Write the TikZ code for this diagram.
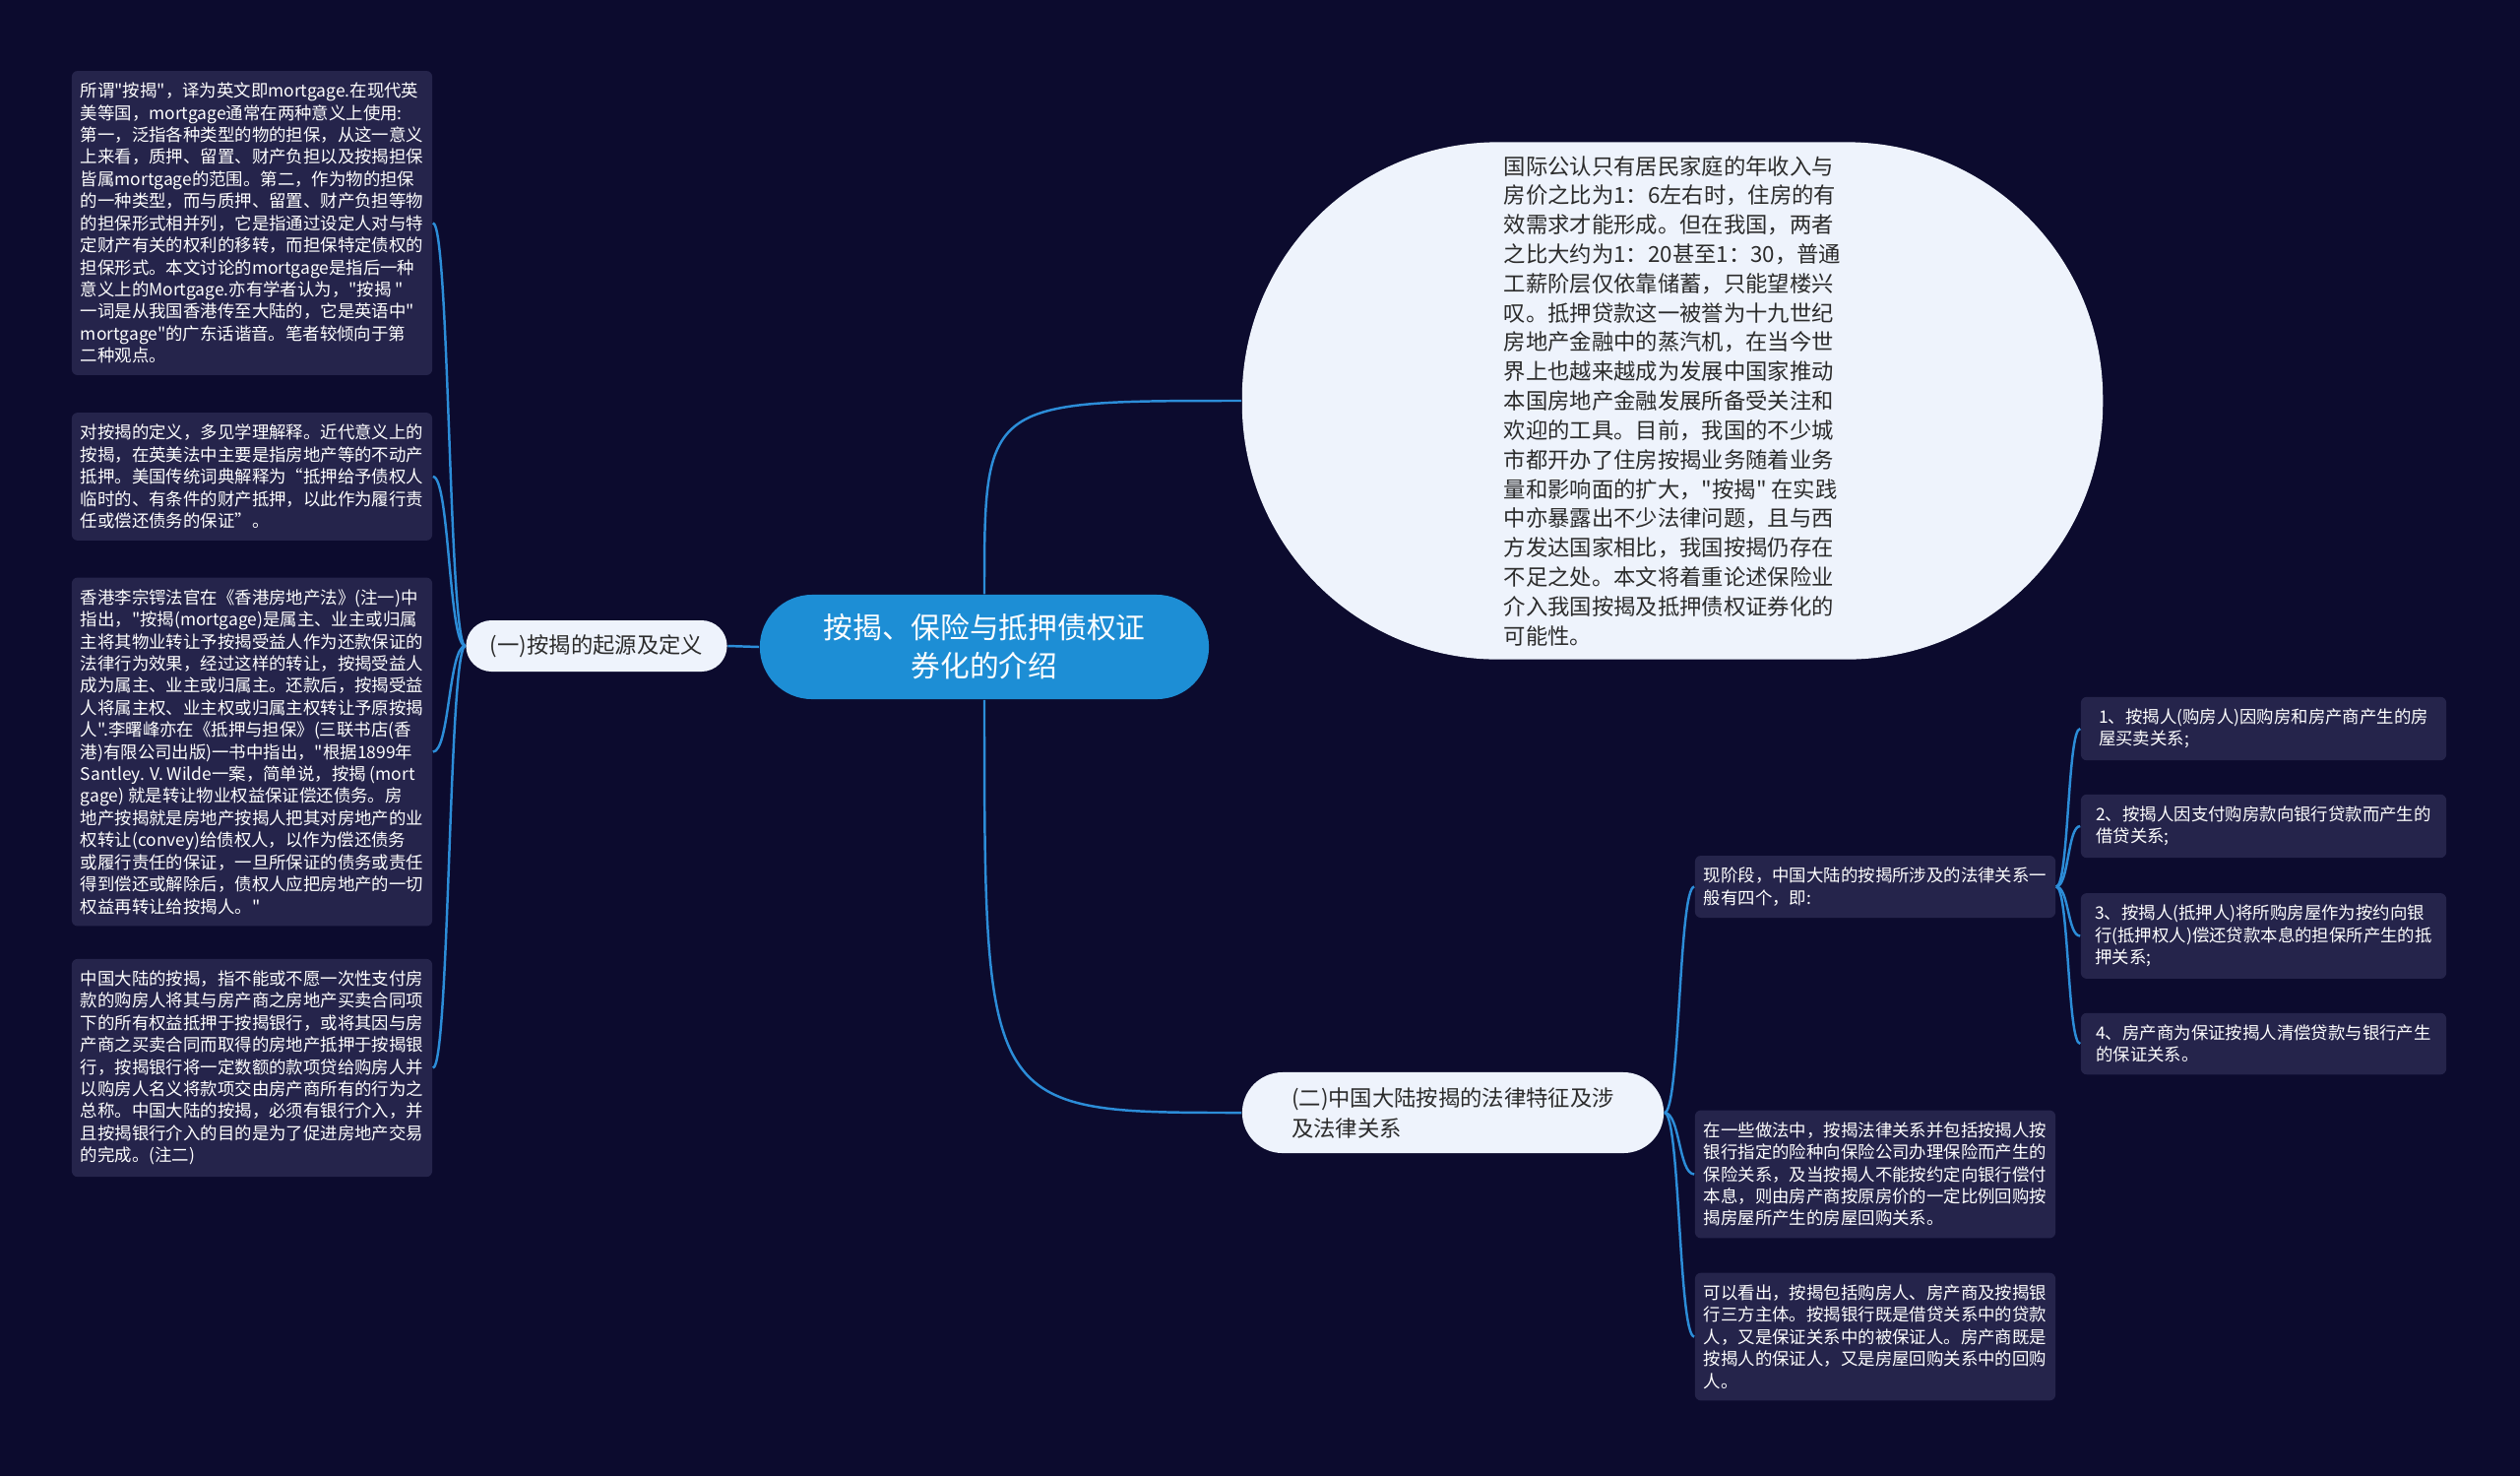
\documentclass[tikz,border=0pt]{standalone}
\usepackage{fontspec}
\newfontfamily\hei{Noto Sans CJK SC}
\usepackage{xcolor}
\usepackage{tikz}
\usetikzlibrary{arrows.meta,positioning,calc}
\definecolor{navy}{HTML}{0C0B2E}
\definecolor{panel}{HTML}{25244B}
\definecolor{hub}{HTML}{1D8ED5}
\definecolor{wire}{HTML}{2C8DD8}
\definecolor{pale}{HTML}{EEF3FC}
\definecolor{ink}{HTML}{2B2B2B}

\begin{document}
\begin{tikzpicture}[x=0.01cm,y=-0.01cm,
    note/.style={fill=panel,rounded corners=0.06cm,minimum width=3.66cm,
                 inner xsep=0.09cm,inner ysep=0.12cm,align=left,
                 font=\hei\fontsize{4.95pt}{6.37pt}\selectfont\color{white}},
    branch/.style={fill=pale,align=left,font=\hei\fontsize{6.35pt}{8.8pt}\selectfont\color{ink}},
    link/.style={draw=wire,line width=0.7pt}]
  \fill[navy] (0,0) rectangle (2560,1499);
  \useasboundingbox (0,0) rectangle (2560,1499);

  \node[fill=hub,rounded corners=0.53cm,minimum width=4.56cm,minimum height=1.06cm,
        align=center,font=\hei\fontsize{8.45pt}{11.1pt}\selectfont\color{white}] (main) at (1000,657)
        {按揭、保险与抵押债权证\\券化的介绍};

  \node[branch,rounded corners=2.6cm,minimum width=8.74cm,minimum height=5.25cm,
        font=\hei\fontsize{6.35pt}{8.48pt}\selectfont\color{ink}] (intro) at (1699,407)
        {国际公认只有居民家庭的年收入与\\房价之比为1：6左右时，住房的有\\效需求才能形成。但在我国，两者\\之比大约为1：20甚至1：30，普通\\工薪阶层仅依靠储蓄，只能望楼兴\\叹。抵押贷款这一被誉为十九世纪\\房地产金融中的蒸汽机，在当今世\\界上也越来越成为发展中国家推动\\本国房地产金融发展所备受关注和\\欢迎的工具。目前，我国的不少城\\市都开办了住房按揭业务随着业务\\量和影响面的扩大，"按揭" 在实践\\中亦暴露出不少法律问题，且与西\\方发达国家相比，我国按揭仍存在\\不足之处。本文将着重论述保险业\\介入我国按揭及抵押债权证券化的\\可能性。};

  \node[branch,rounded corners=0.26cm,minimum width=2.65cm,minimum height=0.52cm] (origin) at (606,656)
        {(一)按揭的起源及定义};
  \node[branch,rounded corners=0.41cm,minimum width=4.28cm,minimum height=0.82cm] (law) at (1476,1130)
        {(二)中国大陆按揭的法律特征及涉\\及法律关系};

  \node[note] (l1) at (256,226.5)
        {所谓"按揭"，译为英文即mortgage.在现代英\\美等国，mortgage通常在两种意义上使用:\\第一，泛指各种类型的物的担保，从这一意义\\上来看，质押、留置、财产负担以及按揭担保\\皆属mortgage的范围。第二，作为物的担保\\的一种类型，而与质押、留置、财产负担等物\\的担保形式相并列，它是指通过设定人对与特\\定财产有关的权利的移转，而担保特定债权的\\担保形式。本文讨论的mortgage是指后一种\\意义上的Mortgage.亦有学者认为，"按揭 "\\一词是从我国香港传至大陆的，它是英语中"\\mortgage"的广东话谐音。笔者较倾向于第\\二种观点。};
  \node[note] (l2) at (256,484)
        {对按揭的定义，多见学理解释。近代意义上的\\按揭，在英美法中主要是指房地产等的不动产\\抵押。美国传统词典解释为“抵押给予债权人\\临时的、有条件的财产抵押，以此作为履行责\\任或偿还债务的保证”。};
  \node[note] (l3) at (256,763.5)
        {香港李宗锷法官在《香港房地产法》(注一)中\\指出，"按揭(mortgage)是属主、业主或归属\\主将其物业转让予按揭受益人作为还款保证的\\法律行为效果，经过这样的转让，按揭受益人\\成为属主、业主或归属主。还款后，按揭受益\\人将属主权、业主权或归属主权转让予原按揭\\人".李曙峰亦在《抵押与担保》(三联书店(香\\港)有限公司出版)一书中指出，"根据1899年\\Santley. V. Wilde一案，简单说，按揭 (mort\\gage) 就是转让物业权益保证偿还债务。房\\地产按揭就是房地产按揭人把其对房地产的业\\权转让(convey)给债权人，以作为偿还债务\\或履行责任的保证，一旦所保证的债务或责任\\得到偿还或解除后，债权人应把房地产的一切\\权益再转让给按揭人。"};
  \node[note] (l4) at (256,1084.5)
        {中国大陆的按揭，指不能或不愿一次性支付房\\款的购房人将其与房产商之房地产买卖合同项\\下的所有权益抵押于按揭银行，或将其因与房\\产商之买卖合同而取得的房地产抵押于按揭银\\行，按揭银行将一定数额的款项贷给购房人并\\以购房人名义将款项交由房产商所有的行为之\\总称。中国大陆的按揭，必须有银行介入，并\\且按揭银行介入的目的是为了促进房地产交易\\的完成。(注二)};

  \node[note] (r1) at (1905,900.5)
        {现阶段，中国大陆的按揭所涉及的法律关系一\\般有四个，即:};
  \node[note] (r2) at (1905,1192.5)
        {在一些做法中，按揭法律关系并包括按揭人按\\银行指定的险种向保险公司办理保险而产生的\\保险关系，及当按揭人不能按约定向银行偿付\\本息，则由房产商按原房价的一定比例回购按\\揭房屋所产生的房屋回购关系。};
  \node[note] (r3) at (1905,1357.5)
        {可以看出，按揭包括购房人、房产商及按揭银\\行三方主体。按揭银行既是借贷关系中的贷款\\人，又是保证关系中的被保证人。房产商既是\\按揭人的保证人，又是房屋回购关系中的回购\\人。};

  \node[note,minimum width=3.71cm] (s1) at (2299.5,740)
        {1、按揭人(购房人)因购房和房产商产生的房\\屋买卖关系;};
  \node[note,minimum width=3.71cm] (s2) at (2299.5,839)
        {2、按揭人因支付购房款向银行贷款而产生的\\借贷关系;};
  \node[note,minimum width=3.71cm] (s3) at (2299.5,950.5)
        {3、按揭人(抵押人)将所购房屋作为按约向银\\行(抵押权人)偿还贷款本息的担保所产生的抵\\押关系;};
  \node[note,minimum width=3.71cm] (s4) at (2299.5,1060)
        {4、房产商为保证按揭人清偿贷款与银行产生\\的保证关系。};

  \draw[link] (main.west) -- (origin.east);
  \draw[link] (main.north) .. controls (main.north |- intro.west) .. (intro.west);
  \draw[link] (main.south) .. controls (main.south |- law.west) .. (law.west);
  \foreach \b in {l1,l2,l3,l4}
    \draw[link] (origin.west) .. controls +(-17,0) and +(17,0) .. (\b.east);
  \foreach \b in {r1,r2,r3}
    \draw[link] (law.east) .. controls +(16,0) and +(-16,0) .. (\b.west);
  \foreach \b in {s1,s2,s3,s4}
    \draw[link] (r1.east) .. controls +(13,0) and +(-13,0) .. (\b.west);
\end{tikzpicture}
\end{document}
